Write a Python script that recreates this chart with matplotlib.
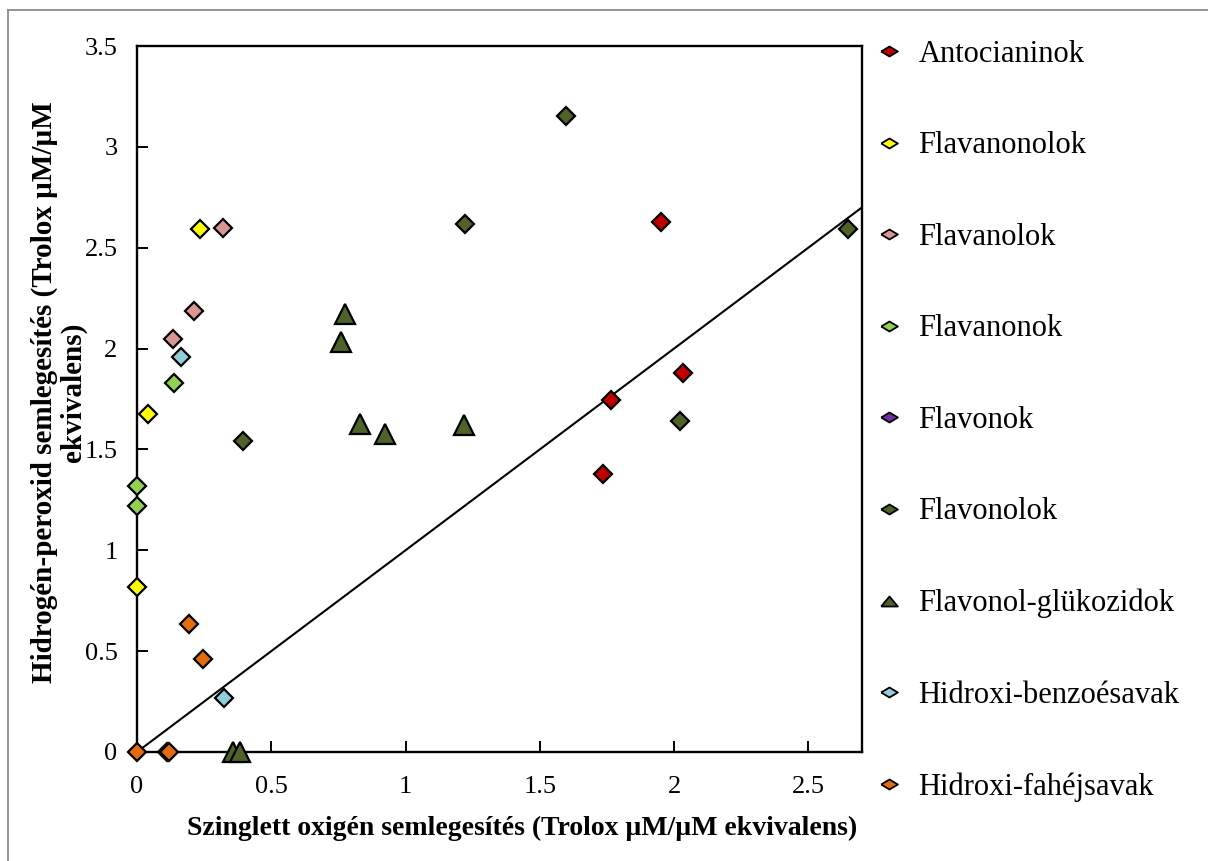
import matplotlib
matplotlib.use("Agg")
import matplotlib.pyplot as plt
from matplotlib.lines import Line2D

plt.rcParams['font.family'] = ['Liberation Serif', 'DejaVu Serif']

# Data (x: singlet oxygen, y: hydrogen peroxide), Trolox equivalents
antocianinok_x = [1.952, 2.033, 1.766, 1.737]
antocianinok_y = [2.627, 1.879, 1.745, 1.378]

flavanonolok_x = [0.234, 0.041, 0.0]
flavanonolok_y = [2.593, 1.676, 0.818]

flavanolok_x = [0.322, 0.212, 0.134]
flavanolok_y = [2.598, 2.186, 2.048]

flavanonok_x = [0.138, 0.0, 0.0]
flavanonok_y = [1.829, 1.319, 1.220]

flavonok_x = []
flavonok_y = []

flavonolok_x = [0.394, 1.599, 1.223, 2.647, 2.022]
flavonolok_y = [1.542, 3.153, 2.618, 2.593, 1.641]

glukozidok_x = [0.773, 0.758, 0.829, 0.922, 1.219, 0.357, 0.383]
glukozidok_y = [2.172, 2.033, 1.626, 1.577, 1.621, 0.0, 0.0]

benzoesavak_x = [0.164, 0.323]
benzoesavak_y = [1.958, 0.268]

fahejsavak_x = [0.193, 0.245, 0.0, 0.110, 0.120]
fahejsavak_y = [0.635, 0.461, 0.0, 0.0, 0.0]

series = [
    ("Antocianinok", antocianinok_x, antocianinok_y, "#C00000", "D"),
    ("Flavanonolok", flavanonolok_x, flavanonolok_y, "#FFFF00", "D"),
    ("Flavanolok", flavanolok_x, flavanolok_y, "#DA9694", "D"),
    ("Flavanonok", flavanonok_x, flavanonok_y, "#92D050", "D"),
    ("Flavonok", flavonok_x, flavonok_y, "#7030A0", "D"),
    ("Flavonolok", flavonolok_x, flavonolok_y, "#4F6228", "D"),
    ("Flavonol-glükozidok", glukozidok_x, glukozidok_y, "#4F6228", "^"),
    ("Hidroxi-benzoésavak", benzoesavak_x, benzoesavak_y, "#92CDDC", "D"),
    ("Hidroxi-fahéjsavak", fahejsavak_x, fahejsavak_y, "#E46C0A", "D"),
]

xlim = (0, 2.7)
ylim = (0, 3.5)

fig = plt.figure(figsize=(12.08, 8.61), dpi=100)
ax = fig.add_axes([137/1208, 1-752/861, (862-137)/1208, (752-46)/861])

for name, xs, ys, col, mk in series:
    ms = 9.5 if mk == "D" else 14.5
    ax.plot(xs, ys, linestyle='none', marker=mk, markersize=ms,
            markerfacecolor=col, markeredgecolor='black', markeredgewidth=1.6,
            label=name, clip_on=False, zorder=3)

# y = x reference line
ax.plot(list(xlim), list(xlim), color='black', linewidth=1.5, zorder=2)

ax.set_xlim(*xlim)
ax.set_ylim(*ylim)
ax.set_xticks([0, 0.5, 1, 1.5, 2, 2.5])
ax.set_xticklabels(["0", "0.5", "1", "1.5", "2", "2.5"])
ax.set_yticks([0, 0.5, 1, 1.5, 2, 2.5, 3, 3.5])
ax.set_yticklabels(["0", "0.5", "1", "1.5", "2", "2.5", "3", "3.5"])
ax.tick_params(direction='in', length=8, width=1.4, labelsize=19)
ax.tick_params(axis='x', pad=17)
ax.tick_params(axis='y', pad=14)
for sp in ax.spines.values():
    sp.set_linewidth(1.7)

ax.set_xlabel("Szinglett oxigén semlegesítés (Trolox µM/µM ekvivalens)",
              fontsize=20, fontweight='bold')
ax.xaxis.set_label_coords((522-137)/725, -(816-752)/706)
ax.set_ylabel("Hidrogén-peroxid semlegesítés (Trolox µM/µM\nekvivalens)",
              fontsize=21, fontweight='bold', linespacing=1.08)
ax.yaxis.set_label_coords(-(137-87)/725, (752-392)/706)

diamond_flat = [(-1, 0), (0, 0.6), (1, 0), (0, -0.6), (-1, 0)]
tri_flat = [(-1, -0.6), (1, -0.6), (0, 0.6), (-1, -0.6)]

handles = []
for name, xs, ys, col, mk in series:
    m = diamond_flat if mk == "D" else tri_flat
    handles.append(Line2D([], [], linestyle='none', marker=m, markersize=12,
                          markerfacecolor=col, markeredgecolor='black',
                          markeredgewidth=1.3, label=name))
fig.legend(handles=handles, loc='upper left', bbox_to_anchor=(877/1208, 1-40/861),
           frameon=False, fontsize=22, labelspacing=2.045, handletextpad=0.58,
           handlelength=0.78, borderaxespad=0, borderpad=0)

# grey outer frame (left and top edges)
fig.add_artist(Line2D([8/1208, 8/1208], [0, 1-10/861], transform=fig.transFigure,
                      color='#8c8c8c', linewidth=1.3))
fig.add_artist(Line2D([8/1208, 1], [1-10/861, 1-10/861], transform=fig.transFigure,
                      color='#8c8c8c', linewidth=1.3))

fig.savefig("out.png", dpi=100)
